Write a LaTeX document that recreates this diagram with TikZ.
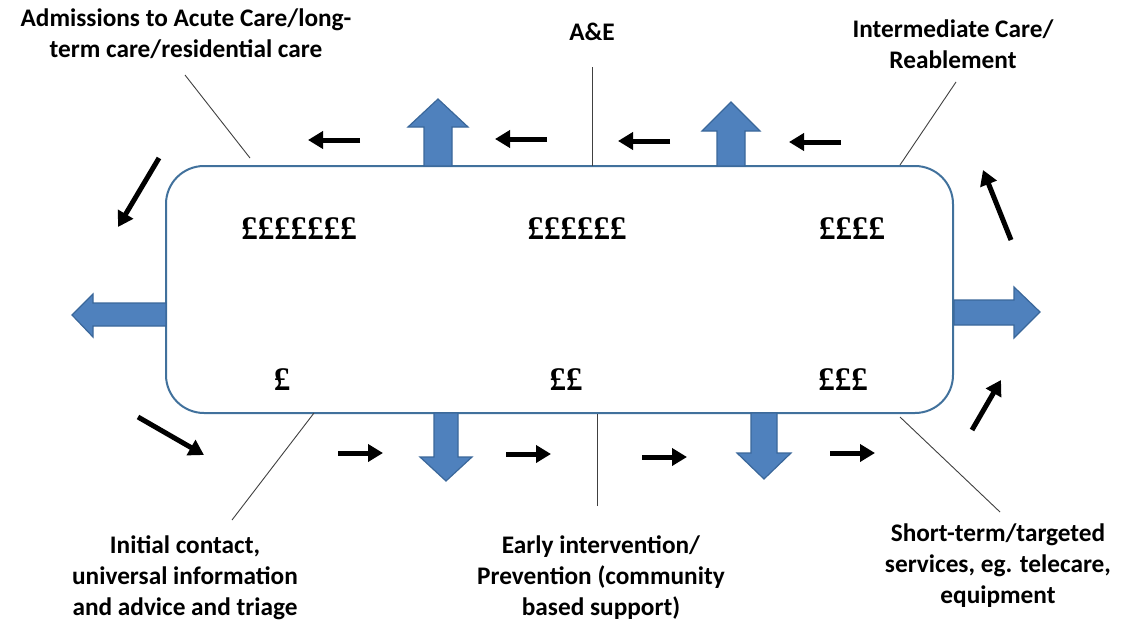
\documentclass[tikz,border=0pt]{standalone}
\usepackage{fontspec}
\setmainfont{Carlito}
\newfontfamily\poundfont{Liberation Serif}
\usetikzlibrary{arrows.meta}
\definecolor{boxline}{HTML}{41719C}
\definecolor{barfill}{HTML}{4F81BD}
\definecolor{barline}{HTML}{3A679A}
\tikzset{
  lbl/.style={font=\fontsize{25.3}{31}\selectfont\bfseries, align=center, inner sep=0pt},
  money/.style={font=\poundfont\fontsize{33}{36}\selectfont\bfseries, inner sep=0pt},
  leader/.style={draw=black!75, line width=0.9pt},
  flow/.style={line width=5pt, -{Triangle[length=15pt,width=17pt]}},
  bar/.style={fill=barfill, draw=barline, line width=1.2pt, line join=miter},
}
\begin{document}
\begin{tikzpicture}[x=1pt,y=-1pt]
\path[use as bounding box] (0,0) rectangle (1122,621);

% main box
\node[draw=boxline, line width=2pt, rounded corners=38pt, minimum width=787pt, minimum height=247pt, inner sep=0pt] (box) at (559.5,289.5) {};

% block arrows
\draw[bar] (424,166) -- (424,127) -- (408,127) -- (438,99) -- (468,127) -- (452,127) -- (452,166) -- cycle;
\draw[bar] (717,166) -- (717,131) -- (702,131) -- (731,102) -- (760,131) -- (745,131) -- (745,166) -- cycle;
\draw[bar] (434,413) -- (434,457) -- (420,457) -- (446,481) -- (472,457) -- (458,457) -- (458,413) -- cycle;
\draw[bar] (751,413) -- (751,453) -- (737,453) -- (764,479) -- (791,453) -- (777,453) -- (777,413) -- cycle;
\draw[bar] (166,303) -- (93,303) -- (93,294) -- (72,315) -- (93,337) -- (93,326) -- (166,326) -- cycle;
\draw[bar] (954,300) -- (1014,300) -- (1014,287) -- (1040,312) -- (1014,338) -- (1014,325) -- (954,325) -- cycle;

% small flow arrows (top, right to left)
\coordinate (t1a) at (841,142); \coordinate (t1b) at (789,142);
\coordinate (t2a) at (670,141); \coordinate (t2b) at (618,141);
\coordinate (t3a) at (547,139); \coordinate (t3b) at (495,139);
\coordinate (t4a) at (360,140); \coordinate (t4b) at (308,140);
\draw[flow] (t1a) -- (t1b);
\draw[flow] (t2a) -- (t2b);
\draw[flow] (t3a) -- (t3b);
\draw[flow] (t4a) -- (t4b);
% left side
\coordinate (l1a) at (159,158); \coordinate (l1b) at (118,227);
\coordinate (l2a) at (138,417); \coordinate (l2b) at (204,455);
\draw[flow] (l1a) -- (l1b);
\draw[flow] (l2a) -- (l2b);
% bottom, left to right
\coordinate (b1a) at (338,453); \coordinate (b1b) at (383,453);
\coordinate (b2a) at (506,454); \coordinate (b2b) at (551,454);
\coordinate (b3a) at (642,457); \coordinate (b3b) at (687,457);
\coordinate (b4a) at (830,453); \coordinate (b4b) at (875,453);
\draw[flow] (b1a) -- (b1b);
\draw[flow] (b2a) -- (b2b);
\draw[flow] (b3a) -- (b3b);
\draw[flow] (b4a) -- (b4b);
% right side
\coordinate (r1a) at (972,430); \coordinate (r1b) at (1001,380);
\coordinate (r2a) at (1011,240); \coordinate (r2b) at (983,170);
\draw[flow] (r1a) -- (r1b);
\draw[flow] (r2a) -- (r2b);

% cost labels
\node[money] (p7) at (299,229) {£££££££};
\node[money] (p6) at (577,229) {££££££};
\node[money] (p4) at (852,229) {££££};
\node[money] (p1) at (282,380) {£};
\node[money] (p2) at (566,380) {££};
\node[money] (p3) at (843,380) {£££};

% stage labels
\node[lbl] (adm) at (186,34) {Admissions to Acute Care/long-\\term care/residential care};
\node[lbl] (ae) at (592,32) {A\&E};
\node[lbl] (inter) at (953,44) {Intermediate Care/\\Reablement};
\node[lbl] (init) at (185,578) {Initial contact,\\universal information\\and advice and triage};
\node[lbl] (early) at (601,578) {Early intervention/\\Prevention (community\\based support)};
\node[lbl] (short) at (998,566) {Short-term/targeted\\services, eg. telecare,\\equipment};

% leader lines
\coordinate (admE) at (185,75);   \coordinate (admB) at (250,158);
\coordinate (aeE) at (592,67);    \coordinate (aeB) at (592,166);
\coordinate (intE) at (956,82);   \coordinate (intB) at (900,165);
\coordinate (iniE) at (232,520);  \coordinate (iniB) at (314,413);
\coordinate (earE) at (597,506);  \coordinate (earB) at (597,414);
\coordinate (shoE) at (1000,512); \coordinate (shoB) at (900,417);
\draw[leader] (admE) -- (admB);
\draw[leader] (aeE) -- (aeB);
\draw[leader] (intE) -- (intB);
\draw[leader] (iniE) -- (iniB);
\draw[leader] (earE) -- (earB);
\draw[leader] (shoE) -- (shoB);
\end{tikzpicture}
\end{document}
